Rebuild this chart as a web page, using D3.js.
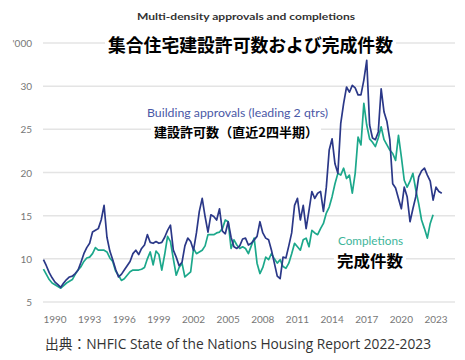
<!DOCTYPE html>
<html>
<head>
<meta charset="utf-8">
<script src="https://cdn.jsdelivr.net/npm/d3@7"></script>
<style>
html,body{margin:0;padding:0;background:#fff;}
svg{display:block;}
</style>
</head>
<body>
<svg id="chart" width="465" height="360"></svg>
<script>
// ---- Data ----
const startYear = 1989; // first quarter of series, quarterly steps
const approvals = [
  9.9, 9.2, 8.4, 7.8,
  7.3, 7.0, 6.7, 7.2,
  7.6, 7.9, 8.0, 8.3,
  8.7, 9.6, 10.6, 11.3,
  11.8, 13.1, 13.3, 13.5,
  14.5, 16.2, 12.5, 10.9,
  9.9, 8.8, 7.9, 8.2,
  8.7, 9.2, 9.7, 10.6,
  11.0, 10.5, 11.2, 11.6,
  12.8, 11.9, 11.8, 12.0,
  11.8, 11.9, 12.5, 13.3,
  13.9, 11.0, 10.2, 9.2,
  9.6, 11.5, 12.4, 12.0,
  11.0, 13.0, 15.5, 17.0,
  14.9, 13.1, 15.1, 14.9,
  14.5, 15.8, 13.2, 12.9,
  14.3, 12.5, 11.4, 11.2,
  11.5, 12.3, 12.4, 11.6,
  11.8, 12.2, 12.6, 14.3,
  13.0, 12.4, 12.2, 11.0,
  9.5, 8.0, 7.7, 10.2,
  10.1, 11.5, 13.0, 16.2,
  17.0, 14.5, 16.2, 13.5,
  15.6, 17.8, 17.0, 17.6,
  17.8, 15.5, 18.3, 22.6,
  23.9, 21.0, 19.9, 25.7,
  28.0, 29.9, 29.3, 30.1,
  29.8, 29.0, 29.0, 30.7,
  33.0, 25.5, 24.0, 23.8,
  24.7, 29.7, 27.0, 25.9,
  23.8, 18.7, 18.2, 17.0,
  15.8, 18.3, 17.2, 14.3,
  15.8, 17.2, 19.5, 20.2,
  20.5, 19.7, 19.0, 16.8,
  18.3, 17.8, 17.6
];
const completions = [
  8.8, 8.2, 7.6, 7.2,
  7.0, 6.8, 6.6, 6.9,
  7.2, 7.4, 7.6, 8.2,
  8.7, 9.1, 9.7, 10.1,
  10.2, 10.6, 11.3, 11.0,
  11.0, 11.0, 10.8, 10.1,
  9.7, 8.6, 8.1, 7.5,
  7.7, 8.1, 8.5, 8.7,
  8.7, 8.7, 8.8, 9.0,
  10.0, 10.8, 9.3, 10.9,
  10.5, 8.7, 10.5, 12.6,
  12.0, 10.0, 8.1, 9.0,
  9.5, 7.9, 8.2, 8.5,
  11.2, 10.6, 10.8, 11.0,
  11.5, 12.8, 12.8, 12.8,
  13.0, 13.1, 13.5, 14.5,
  14.3, 11.2, 12.2, 11.6,
  11.2, 11.4, 11.2, 10.6,
  11.5, 12.4, 9.5, 8.3,
  9.0, 10.2, 9.9, 10.6,
  10.0, 9.5, 9.9, 9.1,
  8.9, 9.5, 10.6, 11.8,
  11.4, 11.0, 12.2, 12.4,
  11.4, 13.3, 13.0, 12.8,
  13.5, 14.1, 15.3, 16.0,
  17.2, 18.7, 19.9, 19.7,
  20.5, 19.3, 19.7, 17.6,
  19.9, 24.1, 23.2, 28.0,
  25.5, 23.9, 23.5, 23.0,
  24.0, 25.3, 23.8, 23.2,
  22.6, 22.2, 21.4, 24.3,
  21.8, 19.1, 18.3, 19.0,
  19.9, 18.0, 16.4, 14.5,
  13.5, 12.4, 14.1, 15.1
];
const yTicks = [5, 10, 15, 20, 25, 30, 35];
const yTickLabels = ["5", "10", "15", "20", "25", "30", "'000"];
const xTicks = [1990, 1993, 1996, 1999, 2002, 2005, 2008, 2011, 2014, 2017, 2020, 2023];

const titleEn = "Multi-density approvals and completions";
const titleJa = "集合住宅建設許可数および完成件数";
const approvalsLabelEn = "Building approvals (leading 2 qtrs)";
const approvalsLabelJa = "建設許可数（直近2四半期）";
const completionsLabelEn = "Completions";
const completionsLabelJa = "完成件数";
const sourceText = "出典：NHFIC  State of the Nations Housing Report 2022-2023";

// ---- Drawing ----
const svg = d3.select("#chart");
const latin = "Lato, 'Open Sans', 'Liberation Sans', sans-serif";
const cjk = "'Noto Sans CJK JP', 'Noto Sans', sans-serif";

const x = d3.scaleLinear().domain([1990, 2023]).range([55, 436]);
const y = d3.scaleLinear().domain([5, 35]).range([302, 43]);

const toPts = arr => arr.map((v, i) => ({t: startYear + i * 0.25, v}));

// gridlines
svg.append("g").selectAll("line").data(yTicks).join("line")
  .attr("x1", 43).attr("x2", 455)
  .attr("y1", d => y(d)).attr("y2", d => y(d))
  .attr("stroke", "#e4e4e4").attr("stroke-width", 1.5);

// y labels
svg.append("g").selectAll("text").data(yTicks).join("text")
  .attr("x", 32).attr("y", d => y(d))
  .attr("text-anchor", "end").attr("dominant-baseline", "central")
  .attr("font-family", latin).attr("font-size", 10).attr("fill", "#777")
  .text((d, i) => yTickLabels[i]);

// x labels
svg.append("g").selectAll("text").data(xTicks).join("text")
  .attr("x", d => x(d)).attr("y", 319)
  .attr("text-anchor", "middle").attr("dominant-baseline", "central")
  .attr("font-family", latin).attr("font-size", 10).attr("fill", "#777")
  .text(d => d);

const line = d3.line().x(d => x(d.t)).y(d => y(d.v));

svg.append("path").datum(toPts(completions))
  .attr("d", line).attr("fill", "none")
  .attr("stroke", "#1ca88b").attr("stroke-width", 1.7).attr("stroke-linejoin", "round");

svg.append("path").datum(toPts(approvals))
  .attr("d", line).attr("fill", "none")
  .attr("stroke", "#2b3888").attr("stroke-width", 1.7).attr("stroke-linejoin", "round");

function label(txt, xPos, yPos, opts) {
  const g = svg.append("g");
  const t = g.append("text")
    .attr("x", xPos).attr("y", yPos)
    .attr("text-anchor", opts.anchor || "start")
    .attr("dominant-baseline", "central")
    .attr("font-family", opts.family).attr("font-size", opts.size)
    .attr("font-weight", opts.weight || "normal")
    .attr("fill", opts.fill)
    .text(txt);
  if (opts.len) t.attr("textLength", opts.len).attr("lengthAdjust", "spacingAndGlyphs");
  if (opts.bg) {
    const b = t.node().getBBox();
    g.insert("rect", "text")
      .attr("x", b.x - 3).attr("y", b.y)
      .attr("width", b.width + 6).attr("height", b.height)
      .attr("fill", "#fff");
  }
}

label(titleEn, 246, 16, {anchor: "middle", family: latin, size: 10, weight: "bold", fill: "#333", len: 218});
label(titleJa, 250.5, 44, {anchor: "middle", family: cjk, size: 18, weight: "bold", fill: "#000", len: 285, bg: true});
label(approvalsLabelEn, 147, 112, {family: latin, size: 11, fill: "#4a58a6", len: 181});
label(approvalsLabelJa, 154, 131, {family: cjk, size: 13, weight: "bold", fill: "#000", len: 164, bg: true});
label(completionsLabelEn, 338, 240, {family: latin, size: 11, fill: "#3db59a", len: 65});
label(completionsLabelJa, 337, 260, {family: cjk, size: 16, weight: "bold", fill: "#000", len: 66, bg: true});
label(sourceText, 45, 343, {family: "'Open Sans', 'Noto Sans CJK JP', sans-serif", size: 14, fill: "#333", len: 386});
</script>
</body>
</html>
